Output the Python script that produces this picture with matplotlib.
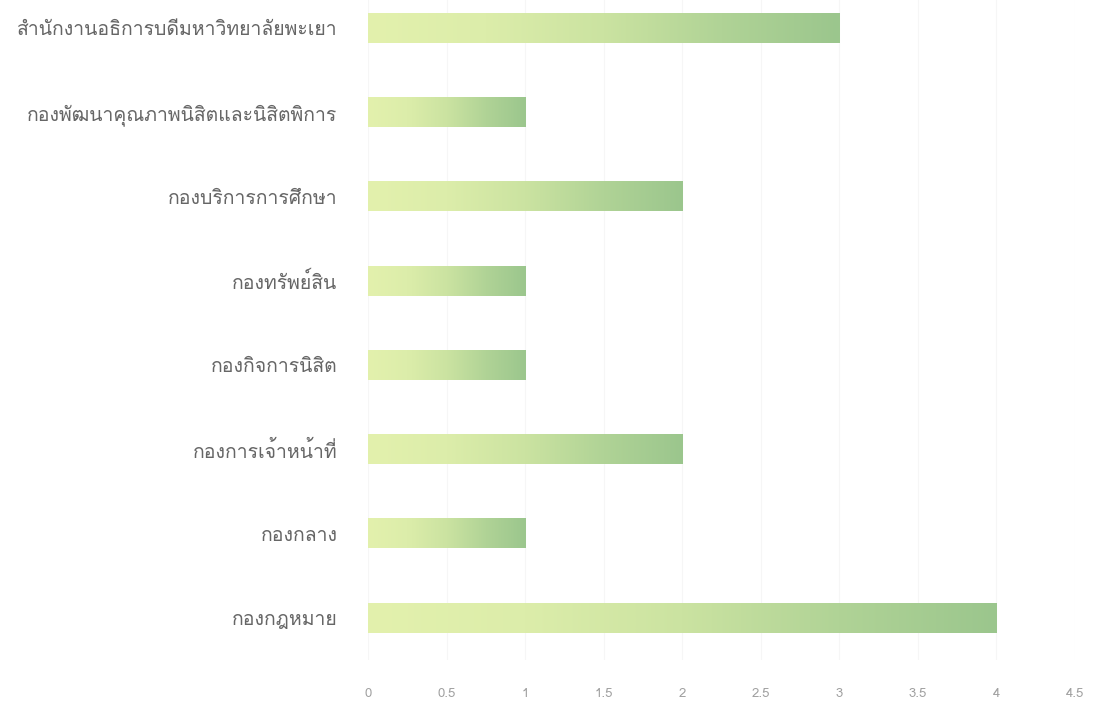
import numpy as np
import matplotlib
matplotlib.use("Agg")
import matplotlib.pyplot as plt
from matplotlib import font_manager
from matplotlib.colors import LinearSegmentedColormap
from matplotlib.ft2font import FT2Font

# data, bottom to top as drawn
labels = ["กองกฎหมาย", "กองกลาง", "กองการเจ้าหน้าที่", "กองกิจการนิสิต",
          "กองทรัพย์สิน", "กองบริการการศึกษา",
          "กองพัฒนาคุณภาพนิสิตและนิสิตพิการ",
          "สำนักงานอธิการบดีมหาวิทยาลัยพะเยา"]
values = [4, 1, 2, 1, 1, 2, 1, 3]
xticks = [0, 0.5, 1, 1.5, 2, 2.5, 3, 3.5, 4, 4.5]
xtick_labels = ["0", "0.5", "1", "1.5", "2", "2.5", "3", "3.5", "4", "4.5"]


def thai_font():
    # look for any installed font with Thai glyphs
    for f in font_manager.fontManager.ttflist:
        try:
            if 0x0E01 in FT2Font(f.fname).get_charmap():
                return f.name
        except Exception:
            pass
    return None


fam = thai_font()
plt.rcParams['font.family'] = ([fam] if fam else []) + ['DejaVu Sans']

fig = plt.figure(figsize=(11.03, 7.03), dpi=100)
ax = fig.add_axes([368 / 1103, 43 / 703, 707 / 1103, 660 / 703])

cmap = LinearSegmentedColormap.from_list(
    "g", ["#e3f1ad", "#dcedaa", "#cbe3a1", "#b0d396", "#9bc68d"])
grad = np.linspace(0, 1, 256).reshape(1, -1)
h = 0.35
for i, v in enumerate(values):
    ax.imshow(grad, cmap=cmap, aspect='auto', extent=[0, v, i - h / 2, i + h / 2],
              interpolation='bicubic', zorder=2)

ax.set_xlim(0, 4.5)
ax.set_ylim(-0.5, 7 + 28 / 84.3)
ax.set_xticks(xticks)
ax.set_xticklabels(xtick_labels, color="#a0a0a0", fontsize=9.5)
ax.set_yticks(range(len(labels)))
ax.set_yticklabels(labels, color="#666666", fontsize=14)
ax.tick_params(axis='y', length=0, pad=22)
ax.tick_params(axis='x', length=0, pad=20)
ax.grid(axis='x', color="#f6f6f6", linewidth=0.8, zorder=0)
ax.set_axisbelow(True)
for s in ax.spines.values():
    s.set_visible(False)

fig.savefig("out.png", dpi=100)
